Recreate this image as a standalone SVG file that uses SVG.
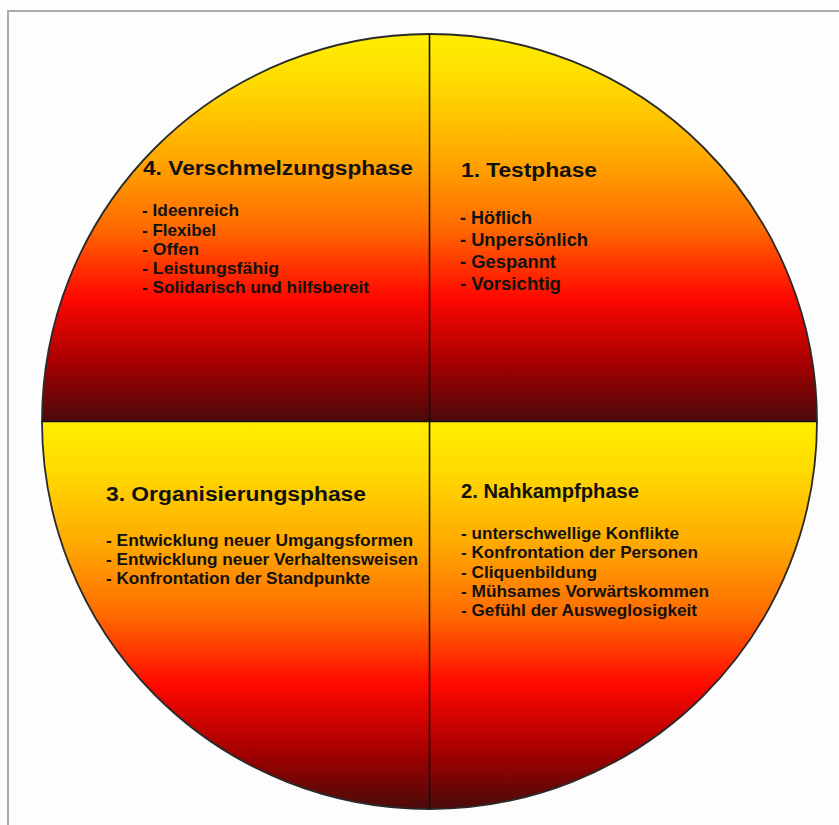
<svg xmlns="http://www.w3.org/2000/svg" width="839" height="825" viewBox="0 0 839 825">
<defs>
<linearGradient id="grad" x1="0" y1="0" x2="0" y2="1">
<stop offset="0" stop-color="#FFEE00"/>
<stop offset="0.12" stop-color="#FFDC00"/>
<stop offset="0.32" stop-color="#FFA800"/>
<stop offset="0.5" stop-color="#FF6A00"/>
<stop offset="0.68" stop-color="#FF0800"/>
<stop offset="0.86" stop-color="#A00000"/>
<stop offset="1" stop-color="#4A0A0A"/>
</linearGradient>
<style>
.q{fill:url(#grad);stroke:none}
.t{font-family:"Liberation Sans",Arial,sans-serif;font-weight:bold;fill:#111}
.h{font-size:20px}
.i{font-size:16.5px}
.div{stroke:#111;stroke-width:1.6;fill:none}
</style>
</defs>
<rect x="0" y="0" width="839" height="825" fill="#fdfdfd"/>
<path d="M8,825 V11 H839" fill="none" stroke="#acacac" stroke-width="2"/>
<g id="q4">
<path class="q" d="M429.5,421.5 L42,421.5 A387.5,387.5 0 0 1 429.5,34 Z"/>
<text class="t h" x="143" y="175" textLength="270" lengthAdjust="spacingAndGlyphs">4. Verschmelzungsphase</text>
<text class="t i" x="142" y="216" textLength="97" lengthAdjust="spacingAndGlyphs">- Ideenreich</text>
<text class="t i" x="142" y="236" textLength="74" lengthAdjust="spacingAndGlyphs">- Flexibel</text>
<text class="t i" x="142" y="255" textLength="57" lengthAdjust="spacingAndGlyphs">- Offen</text>
<text class="t i" x="142" y="274" textLength="137" lengthAdjust="spacingAndGlyphs">- Leistungsfähig</text>
<text class="t i" x="142" y="293" textLength="227" lengthAdjust="spacingAndGlyphs">- Solidarisch und hilfsbereit</text>
</g>
<g id="q1">
<path class="q" d="M429.5,421.5 L429.5,34 A387.5,387.5 0 0 1 817,421.5 Z"/>
<text class="t h" x="461" y="177" textLength="136" lengthAdjust="spacingAndGlyphs">1. Testphase</text>
<text class="t i" x="460" y="224" textLength="72" lengthAdjust="spacingAndGlyphs" style="font-size:17.5px">- Höflich</text>
<text class="t i" x="460" y="246" textLength="128" lengthAdjust="spacingAndGlyphs" style="font-size:17.5px">- Unpersönlich</text>
<text class="t i" x="460" y="268" textLength="96" lengthAdjust="spacingAndGlyphs" style="font-size:17.5px">- Gespannt</text>
<text class="t i" x="460" y="290" textLength="101" lengthAdjust="spacingAndGlyphs" style="font-size:17.5px">- Vorsichtig</text>
</g>
<g id="q3">
<path class="q" d="M429.5,421.5 L429.5,809 A387.5,387.5 0 0 1 42,421.5 Z"/>
<text class="t h" x="106" y="501" textLength="260" lengthAdjust="spacingAndGlyphs">3. Organisierungsphase</text>
<text class="t i" x="106" y="546" textLength="307" lengthAdjust="spacingAndGlyphs">- Entwicklung neuer Umgangsformen</text>
<text class="t i" x="106" y="565" textLength="312" lengthAdjust="spacingAndGlyphs">- Entwicklung neuer Verhaltensweisen</text>
<text class="t i" x="106" y="584" textLength="264" lengthAdjust="spacingAndGlyphs">- Konfrontation der Standpunkte</text>
</g>
<g id="q2">
<path class="q" d="M429.5,421.5 L817,421.5 A387.5,387.5 0 0 1 429.5,809 Z"/>
<text class="t h" x="461" y="498" textLength="178" lengthAdjust="spacingAndGlyphs">2. Nahkampfphase</text>
<text class="t i" x="461" y="539" textLength="218" lengthAdjust="spacingAndGlyphs">- unterschwellige Konflikte</text>
<text class="t i" x="461" y="558" textLength="237" lengthAdjust="spacingAndGlyphs">- Konfrontation der Personen</text>
<text class="t i" x="461" y="578" textLength="136" lengthAdjust="spacingAndGlyphs">- Cliquenbildung</text>
<text class="t i" x="461" y="597" textLength="248" lengthAdjust="spacingAndGlyphs">- Mühsames Vorwärtskommen</text>
<text class="t i" x="461" y="616" textLength="236" lengthAdjust="spacingAndGlyphs">- Gefühl der Ausweglosigkeit</text>
</g>
<g id="connectors">
<circle cx="429.5" cy="421.5" r="387.5" fill="none" stroke="#2a2a2a" stroke-width="1.8"/>
<line class="div" x1="429.5" y1="34" x2="429.5" y2="809"/>
<line class="div" x1="42" y1="421.5" x2="817" y2="421.5"/>
</g>
</svg>
